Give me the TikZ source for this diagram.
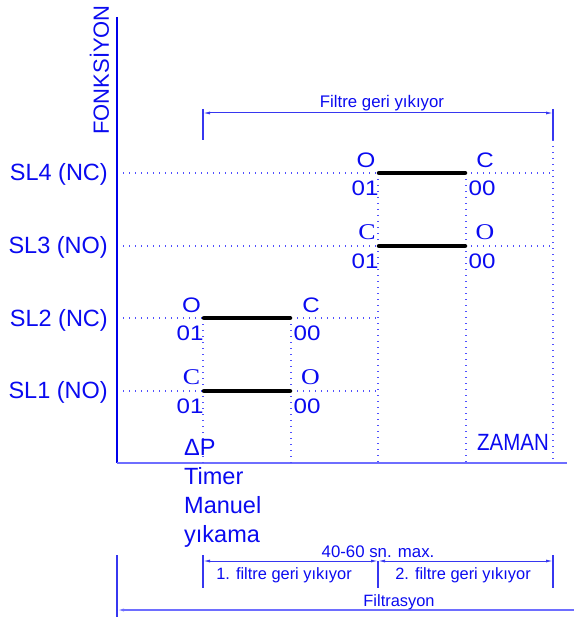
\documentclass[tikz,border=0pt]{standalone}
\usepackage{fontspec}
\setmainfont{Liberation Sans}
\newfontfamily\serifC{Liberation Serif}
\usetikzlibrary{arrows.meta}
\definecolor{txtc}{RGB}{10,10,240}
\definecolor{dimc}{RGB}{55,55,240}
\definecolor{dotc}{RGB}{80,80,255}
\definecolor{axc}{RGB}{0,0,235}
\definecolor{axh}{RGB}{110,110,255}
\tikzset{
  lab/.style={text=txtc, inner sep=0pt, font=\fontsize{23.5}{26}\selectfont},
  oc/.style={text=txtc, inner sep=0pt, font=\fontsize{21}{23}\selectfont},
  ocs/.style={text=txtc, inner sep=0pt, font=\serifC\fontsize{22.5}{24}\selectfont},
  small/.style={text=txtc, inner sep=0pt, font=\fontsize{16.8}{18}\selectfont},
  dotl/.style={dotc, line width=1.3pt, dash pattern=on 1.2pt off 4.8pt},
  bar/.style={black, line width=4.5pt, line cap=round},
  dimline/.style={dimc, line width=1pt},
  tick/.style={dimc, line width=1.1pt},
  tips/.style={{Latex[length=7pt,width=3pt]}-{Latex[length=7pt,width=3pt]}},
}
\newcommand{\widelab}[1]{\scalebox{1.15}[1]{#1}}
\begin{document}
\begin{tikzpicture}[x=1pt,y=-1pt]
\useasboundingbox (0,0) rectangle (574,620);

% axes
\coordinate (ytop) at (117,17);
\coordinate (orig) at (117,463);
\coordinate (xend) at (567,463);
\draw[axc, line width=1.3pt] (ytop) -- (orig);
\draw[axh, line width=1.3pt] (orig) -- (xend);
\node[text=txtc, inner sep=0pt, rotate=90, font=\fontsize{22}{24}\selectfont] (fonk) at (99.5,70) {FONKSİYON};

% row lines
\coordinate (r4a) at (123,173); \coordinate (r4b) at (553,173);
\coordinate (r3a) at (123,246); \coordinate (r3b) at (553,246);
\coordinate (r2a) at (123,318); \coordinate (r2b) at (378,318);
\coordinate (r1a) at (123,391); \coordinate (r1b) at (378,391);
\draw[dotl] (r4a) -- (r4b);
\draw[dotl] (r3a) -- (r3b);
\draw[dotl] (r2a) -- (r2b);
\draw[dotl] (r1a) -- (r1b);

% vertical dotted lines
\coordinate (v1t) at (203,318); \coordinate (v1b) at (203,463);
\coordinate (v2t) at (291,318); \coordinate (v2b) at (291,463);
\coordinate (v3t) at (378,173); \coordinate (v3b) at (378,463);
\coordinate (v4t) at (466,173); \coordinate (v4b) at (466,463);
\coordinate (v5t) at (553,140); \coordinate (v5b) at (553,463);
\draw[dotl] (v1t) -- (v1b);
\draw[dotl] (v2t) -- (v2b);
\draw[dotl] (v3t) -- (v3b);
\draw[dotl] (v4t) -- (v4b);
\draw[dotl] (v5t) -- (v5b);

% row labels
\node[lab, anchor=base east] (sl4) at (108,181) {SL4 (NC)};
\node[lab, anchor=base east] (sl3) at (108,253) {SL3 (NO)};
\node[lab, anchor=base east] (sl2) at (108,326) {SL2 (NC)};
\node[lab, anchor=base east] (sl1) at (108,398) {SL1 (NO)};

% bars
\coordinate (b4a) at (379,173); \coordinate (b4b) at (465,173);
\coordinate (b3a) at (379,246); \coordinate (b3b) at (465,246);
\coordinate (b2a) at (204,318); \coordinate (b2b) at (290,318);
\coordinate (b1a) at (204,391); \coordinate (b1b) at (290,391);
\draw[bar] (b4a) -- (b4b);
\draw[bar] (b3a) -- (b3b);
\draw[bar] (b2a) -- (b2b);
\draw[bar] (b1a) -- (b1b);

% SL4 labels
\node[oc] (o4) at (366,160) {\widelab{O}};
\node[oc] (c4) at (485,160) {\widelab{C}};
\node[oc] (n4a) at (365,188) {\widelab{01}};
\node[oc] (n4b) at (482,188) {\widelab{00}};
% SL3 labels
\node[ocs] (c3) at (367,232) {\widelab{C}};
\node[ocs] (o3) at (485,232) {\widelab{O}};
\node[oc] (n3a) at (365,261) {\widelab{01}};
\node[oc] (n3b) at (482,261) {\widelab{00}};
% SL2 labels
\node[oc] (o2) at (191.5,305) {\widelab{O}};
\node[oc] (c2) at (311,305) {\widelab{C}};
\node[oc] (n2a) at (190,333) {\widelab{01}};
\node[oc] (n2b) at (307,333) {\widelab{00}};
% SL1 labels
\node[ocs] (c1) at (191.5,377) {\widelab{C}};
\node[ocs] (o1) at (310.5,377) {\widelab{O}};
\node[oc] (n1a) at (190,406) {\widelab{01}};
\node[oc] (n1b) at (307,406) {\widelab{00}};

% event labels
\node[lab, anchor=base west] (dp) at (184,455) {ΔP};
\node[lab, anchor=base west] (tm) at (184,484) {Timer};
\node[lab, anchor=base west] (mn) at (184,513) {Manuel};
\node[lab, anchor=base west] (yk) at (184,542) {yıkama};
\node[lab] (zaman) at (513,442) {\scalebox{0.87}[1]{ZAMAN}};

% top dimension
\coordinate (ta1) at (203,109); \coordinate (ta2) at (203,140);
\coordinate (tb1) at (553,109); \coordinate (tb2) at (553,140);
\coordinate (tl) at (203,113); \coordinate (tr) at (553,113);
\draw[tick] (ta1) -- (ta2);
\draw[tick] (tb1) -- (tb2);
\draw[dimline, tips] (tl) -- (tr);
\node[small, anchor=base] (fgy) at (382,107.5) {Filtre geri yıkıyor};

% bottom dimension
\coordinate (ba1) at (203,555); \coordinate (ba2) at (203,588);
\coordinate (bm1) at (378,561); \coordinate (bm2) at (378,588);
\coordinate (bb1) at (553,555); \coordinate (bb2) at (553,588);
\coordinate (bl) at (203,561); \coordinate (bm) at (378,561); \coordinate (br) at (553,561);
\draw[tick] (ba1) -- (ba2);
\draw[tick] (bm1) -- (bm2);
\draw[tick] (bb1) -- (bb2);
\draw[dimline, tips] (bl) -- (bm);
\draw[dimline, tips] (bm) -- (br);
\node[small, anchor=base] (sn) at (378,557.5) {40-60 sn. max.};
\node[small, anchor=base, font=\fontsize{16.4}{18}\selectfont] (f1) at (284,579) {1. filtre geri yıkıyor};
\node[small, anchor=base, font=\fontsize{16.4}{18}\selectfont] (f2) at (463,579) {2. filtre geri yıkıyor};

% filtrasyon
\coordinate (fa1) at (117,555); \coordinate (fa2) at (117,617);
\coordinate (fl) at (117,610); \coordinate (fr) at (574,610);
\draw[tick] (fa1) -- (fa2);
\draw[axh, line width=1.2pt, {Latex[length=7pt,width=3pt]}-] (fl) -- (fr);
\node[small, anchor=base, font=\fontsize{16.4}{18}\selectfont] (filt) at (399,606) {Filtrasyon};
\end{tikzpicture}
\end{document}
